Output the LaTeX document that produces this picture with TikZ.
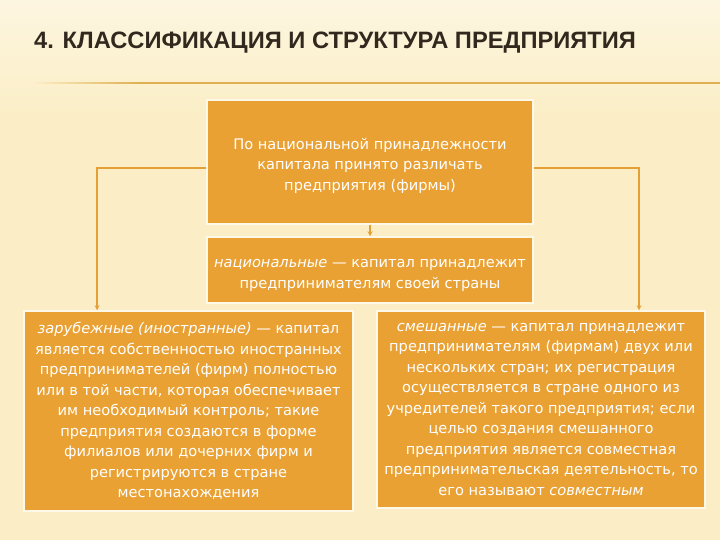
\documentclass[tikz,border=0pt]{standalone}
\usepackage{fontspec}
\setmainfont{DejaVu Sans}
\newfontfamily\titlefont{Liberation Sans}
\usetikzlibrary{arrows}
\definecolor{bgcream}{RGB}{251,238,198}
\definecolor{boxorange}{RGB}{234,161,52}
\definecolor{linegold}{RGB}{228,160,55}
\definecolor{rulegold}{RGB}{222,176,82}
\definecolor{titlebrown}{RGB}{50,40,30}

\begin{document}
\begin{tikzpicture}[x=1pt, y=-1pt,
  box/.style={fill=boxorange, draw=white!60!bgcream, line width=1.5pt, text=white, align=center, inner sep=0pt, font=\fontsize{14.6}{20.5}\selectfont},
  link/.style={draw=linegold, line width=1.2pt, ->, >=stealth}]

% background and title
\useasboundingbox (0,0) rectangle (720,540);
\shade[top color=white!45!bgcream, bottom color=bgcream] (0,0) rectangle (720,120);
\fill[bgcream] (0,120) rectangle (720,540);
\shade[left color=bgcream, right color=rulegold] (35,82.2) rectangle (140,83.8);
\fill[rulegold] (140,82.2) rectangle (720,83.8);

\node[anchor=base west, inner sep=0pt, text=titlebrown, font=\titlefont\bfseries\fontsize{23.7}{26}\selectfont] (title) at (34,49) {4. КЛАССИФИКАЦИЯ И СТРУКТУРА ПРЕДПРИЯТИЯ};

% boxes
\node[box, minimum width=326pt, minimum height=124pt] (top) at (370,162) {\rule{0pt}{19pt}По национальной принадлежности\\капитала принято различать\\предприятия (фирмы)};
\node[box, minimum width=326pt, minimum height=66pt] (national) at (370,270) {\rule{0pt}{19pt}\textit{национальные} --- капитал принадлежит\\предпринимателям своей страны};
\node[box, minimum width=329pt, minimum height=200pt] (foreign) at (188.5,411) {\textit{зарубежные (иностранные)} --- капитал\\является собственностью иностранных\\предпринимателей (фирм) полностью\\или в той части, которая обеспечивает\\им необходимый контроль; такие\\предприятия создаются в форме\\филиалов или дочерних фирм и\\регистрируются в стране\\местонахождения};
\node[box, minimum width=328pt, minimum height=197pt] (mixed) at (541,409.5) {\textit{смешанные} --- капитал принадлежит\\предпринимателям (фирмам) двух или\\нескольких стран; их регистрация\\осуществляется в стране одного из\\учредителей такого предприятия; если\\целью создания смешанного\\предприятия является совместная\\предпринимательская деятельность, то\\его называют \textit{совместным}};

% connectors
\coordinate (lcorner) at (97,168);
\coordinate (rcorner) at (639,168);
\draw[link] (top) -- (national);
\draw[link] (top.west |- lcorner) -- (lcorner) -- (lcorner |- foreign.north);
\draw[link] (top.east |- rcorner) -- (rcorner) -- (rcorner |- mixed.north);

\end{tikzpicture}
\end{document}
